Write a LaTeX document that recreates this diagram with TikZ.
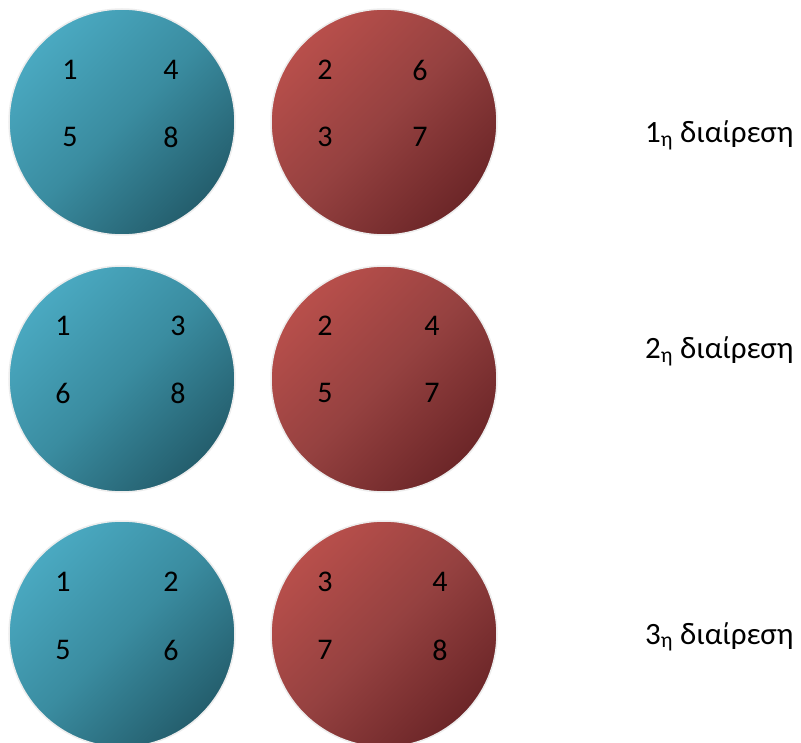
\documentclass[tikz,border=0pt]{standalone}
\usepackage{fontspec}
\setmainfont{Carlito}
\begin{document}
\begin{tikzpicture}[x=1pt,y=-1pt]
\definecolor{blueA}{HTML}{4AA9C1}
\definecolor{blueM}{HTML}{3A8CA0}
\definecolor{blueB}{HTML}{245E6D}
\definecolor{redA}{HTML}{B84F4B}
\definecolor{redM}{HTML}{954140}
\definecolor{redB}{HTML}{6C2628}
\tikzset{
  disc/.style={circle, minimum size=226pt, inner sep=0pt, draw=black!7, line width=1.5pt},
  bluedisc/.style={disc, top color=blueA, bottom color=blueB, middle color=blueM, shading angle=45},
  reddisc/.style={disc, top color=redA, bottom color=redB, middle color=redM, shading angle=45},
  num/.style={inner sep=0pt, font=\fontsize{30}{36}\selectfont, text=black},
  lbl/.style={inner sep=0pt, anchor=base west, font=\fontsize{31}{37}\selectfont, text=black}}
\useasboundingbox (0,0) rectangle (801,743);
\clip (0,0) rectangle (801,743);
\fill[white] (0,0) rectangle (801,743);

% first division
\node[bluedisc] (b1) at (122,122) {};
\node[reddisc]  (r1) at (384,122) {};
\node[num] (b1a) at (70,70) {1};
\node[num] (b1b) at (171,70) {4};
\node[num] (b1c) at (70,137) {5};
\node[num] (b1d) at (171,137) {8};
\node[num] (r1a) at (325,70) {2};
\node[num] (r1b) at (420,70) {6};
\node[num] (r1c) at (325,137) {3};
\node[num] (r1d) at (420,137) {7};
\node[lbl] (l1) at (645,143) {1\textsubscript{η} διαίρεση};

% second division
\node[bluedisc] (b2) at (122,379) {};
\node[reddisc]  (r2) at (384,379) {};
\node[num] (b2a) at (63,326) {1};
\node[num] (b2b) at (178,326) {3};
\node[num] (b2c) at (63,393) {6};
\node[num] (b2d) at (178,393) {8};
\node[num] (r2a) at (325,326) {2};
\node[num] (r2b) at (432,326) {4};
\node[num] (r2c) at (325,393) {5};
\node[num] (r2d) at (432,393) {7};
\node[lbl] (l2) at (645,359) {2\textsubscript{η} διαίρεση};

% third division
\node[bluedisc] (b3) at (122,634) {};
\node[reddisc]  (r3) at (384,634) {};
\node[num] (b3a) at (63,582) {1};
\node[num] (b3b) at (171,582) {2};
\node[num] (b3c) at (63,650) {5};
\node[num] (b3d) at (171,650) {6};
\node[num] (r3a) at (325,582) {3};
\node[num] (r3b) at (440,582) {4};
\node[num] (r3c) at (325,650) {7};
\node[num] (r3d) at (440,650) {8};
\node[lbl] (l3) at (645,644) {3\textsubscript{η} διαίρεση};
\end{tikzpicture}
\end{document}
